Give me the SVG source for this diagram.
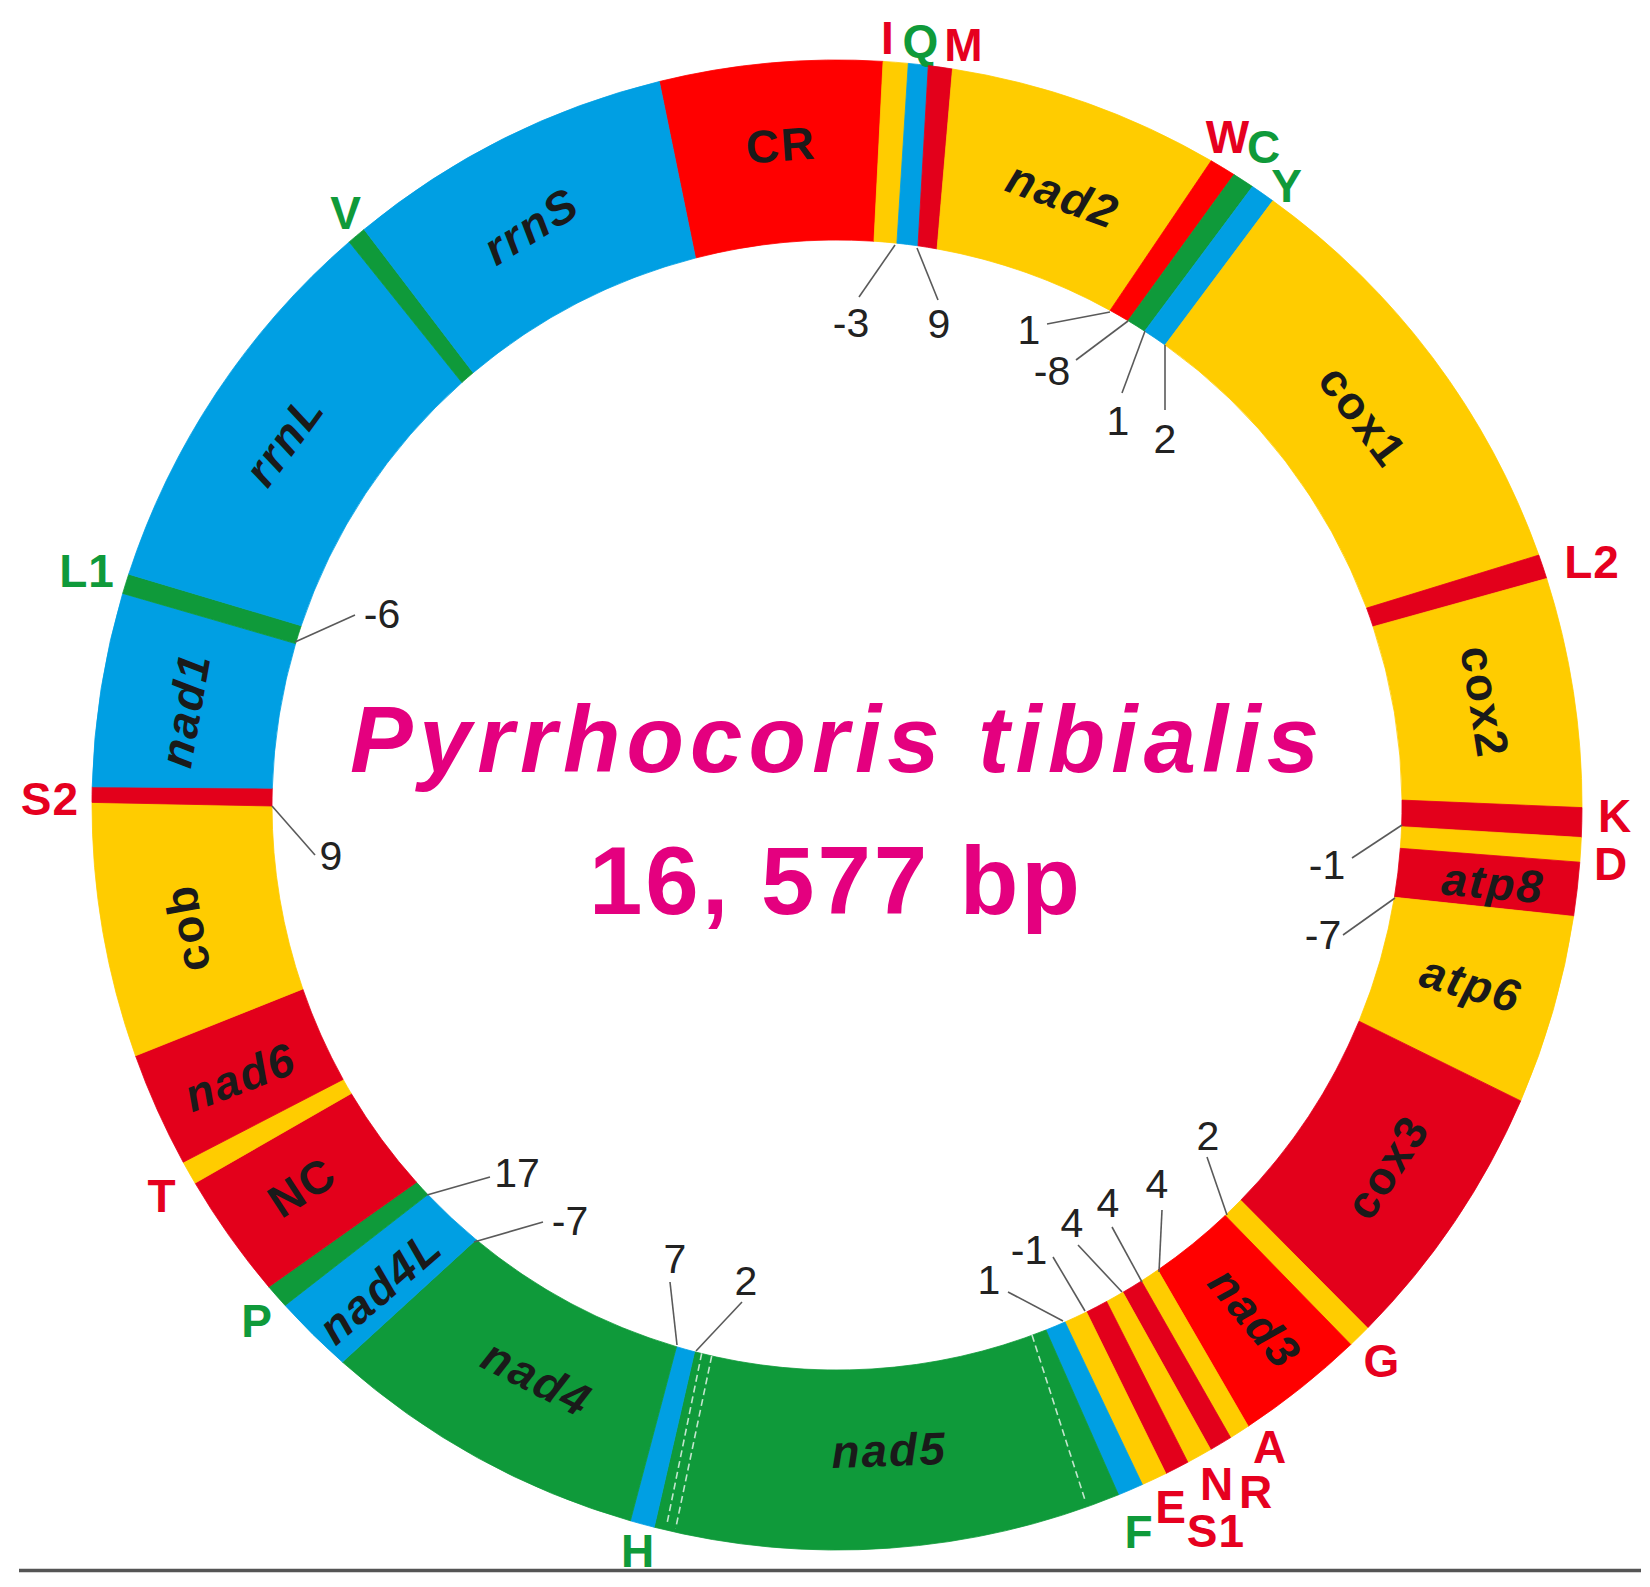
<svg xmlns="http://www.w3.org/2000/svg" width="1650" height="1587" viewBox="0 0 1650 1587">
<style>
.y{fill:#FFCC00;stroke:#FFCC00;stroke-width:0.8}
.b{fill:#009FE3;stroke:#009FE3;stroke-width:0.8}
.g{fill:#0F9A3A;stroke:#0F9A3A;stroke-width:0.8}
.r{fill:#FF0000;stroke:#FF0000;stroke-width:0.8}
.c{fill:#E3001B;stroke:#E3001B;stroke-width:0.8}
.gl{font-family:"Liberation Sans",Arial,sans-serif;font-weight:bold;font-size:46px;fill:#1a1a1a;text-anchor:middle;letter-spacing:2px}
.it{font-style:italic}
.tl{font-family:"Liberation Sans",Arial,sans-serif;font-weight:bold;font-size:46px;text-anchor:middle;letter-spacing:1px}
.tr{fill:#E6001F}
.tg{fill:#0F9A3A}
.num{font-family:"Liberation Sans",Arial,sans-serif;font-size:41px;fill:#222;text-anchor:middle}
.ld{stroke:#5a5a5a;stroke-width:1.6;fill:none}
.wd{stroke:#ffffff;stroke-width:1.6;stroke-dasharray:7 4;opacity:0.75;fill:none}
.title{font-family:"Liberation Sans",Arial,sans-serif;font-weight:bold;fill:#E4007F;text-anchor:middle}
</style>
<rect width="1650" height="1587" fill="#ffffff"/>
<g id="ring">
<g id="CR"><path class="r" d="M659.3 81.5 A745 745 0 0 1 883.1 61.4 L874.0 241.2 A565 565 0 0 0 695.5 258.0 Z"/><text class="gl" transform="translate(781,145) rotate(-4)" y="16">CR</text></g>
<g id="trnI"><path class="y" d="M883.1 61.4 A745 745 0 0 1 908.3 63.4 L896.9 243.2 A565 565 0 0 0 874.0 241.2 Z"/><text class="tl tr" x="888" y="54">I</text></g>
<g id="trnQ"><path class="b" d="M908.3 63.4 A745 745 0 0 1 928.3 65.6 L918.0 245.8 A565 565 0 0 0 896.9 243.2 Z"/><text class="tl tg" x="921" y="57">Q</text></g>
<g id="trnM"><path class="c" d="M928.3 65.6 A745 745 0 0 1 952.5 69.0 L937.1 248.9 A565 565 0 0 0 918.0 245.8 Z"/><text class="tl tr" x="964" y="61">M</text></g>
<g id="nad2"><path class="y" d="M952.5 69.0 A745 745 0 0 1 1211.2 160.8 L1110.1 310.4 A565 565 0 0 0 937.1 248.9 Z"/><text class="gl it" transform="translate(1063,195) rotate(20)" y="16">nad2</text></g>
<g id="trnW"><path class="r" d="M1211.2 160.8 A745 745 0 0 1 1234.0 174.6 L1128.0 320.7 A565 565 0 0 0 1110.1 310.4 Z"/><text class="tl tr" x="1228" y="153">W</text></g>
<g id="trnC"><path class="g" d="M1234.0 174.6 A745 745 0 0 1 1252.5 186.6 L1144.7 331.2 A565 565 0 0 0 1128.0 320.7 Z"/><text class="tl tg" x="1264" y="163">C</text></g>
<g id="trnY"><path class="b" d="M1252.5 186.6 A745 745 0 0 1 1272.8 200.8 L1165.1 345.0 A565 565 0 0 0 1144.7 331.2 Z"/><text class="tl tg" x="1287" y="202">Y</text></g>
<g id="cox1"><path class="y" d="M1272.8 200.8 A745 745 0 0 1 1538.8 555.1 L1366.6 608.1 A565 565 0 0 0 1165.1 345.0 Z"/><text class="gl" transform="translate(1363,416) rotate(53)" y="16">cox1</text></g>
<g id="trnL2"><path class="c" d="M1538.8 555.1 A745 745 0 0 1 1546.7 578.5 L1373.1 626.7 A565 565 0 0 0 1366.6 608.1 Z"/><text class="tl tr" x="1592" y="578" letter-spacing="3">L2</text></g>
<g id="cox2"><path class="y" d="M1546.7 578.5 A745 745 0 0 1 1582.0 807.6 L1402.0 800.1 A565 565 0 0 0 1373.1 626.7 Z"/><text class="gl" transform="translate(1485,702) rotate(81)" y="16">cox2</text></g>
<g id="trnK"><path class="c" d="M1582.0 807.6 A745 745 0 0 1 1581.3 837.5 L1401.6 826.7 A565 565 0 0 0 1402.0 800.1 Z"/><text class="tl tr" x="1615" y="832" font-size="42">K</text></g>
<g id="trnD"><path class="y" d="M1581.3 837.5 A745 745 0 0 1 1579.8 862.2 L1400.3 848.3 A565 565 0 0 0 1401.6 826.7 Z"/><text class="tl tr" x="1611" y="880" font-size="42">D</text></g>
<g id="atp8"><path class="c" d="M1579.8 862.2 A745 745 0 0 1 1573.6 916.4 L1394.4 897.3 A565 565 0 0 0 1400.3 848.3 Z"/><text class="gl it" transform="translate(1493,883) rotate(5)" y="16">atp8</text></g>
<g id="atp6"><path class="y" d="M1573.6 916.4 A745 745 0 0 1 1520.7 1100.9 L1359.0 1021.2 A565 565 0 0 0 1394.4 897.3 Z"/><text class="gl it" transform="translate(1471,984) rotate(16)" y="16">atp6</text></g>
<g id="cox3"><path class="c" d="M1520.7 1100.9 A745 745 0 0 1 1367.6 1328.0 L1240.7 1200.3 A565 565 0 0 0 1359.0 1021.2 Z"/><text class="gl" transform="translate(1387,1167) rotate(-57)" y="16">cox3</text></g>
<g id="trnG"><path class="y" d="M1367.6 1328.0 A745 745 0 0 1 1350.8 1344.5 L1225.2 1215.5 A565 565 0 0 0 1240.7 1200.3 Z"/><text class="tl tr" x="1382" y="1377">G</text></g>
<g id="nad3"><path class="r" d="M1350.8 1344.5 A745 745 0 0 1 1248.2 1426.2 L1157.8 1270.1 A565 565 0 0 0 1225.2 1215.5 Z"/><text class="gl it" transform="translate(1255,1318) rotate(50)" y="16">nad3</text></g>
<g id="trnA"><path class="y" d="M1248.2 1426.2 A745 745 0 0 1 1230.6 1437.6 L1141.4 1281.0 A565 565 0 0 0 1157.8 1270.1 Z"/><text class="tl tr" x="1270" y="1463">A</text></g>
<g id="trnR"><path class="c" d="M1230.6 1437.6 A745 745 0 0 1 1210.6 1449.5 L1122.9 1292.3 A565 565 0 0 0 1141.4 1281.0 Z"/><text class="tl tr" x="1256" y="1508">R</text></g>
<g id="trnN"><path class="y" d="M1210.6 1449.5 A745 745 0 0 1 1187.8 1462.2 L1106.6 1301.5 A565 565 0 0 0 1122.9 1292.3 Z"/><text class="tl tr" x="1217" y="1500">N</text></g>
<g id="trnS1"><path class="c" d="M1187.8 1462.2 A745 745 0 0 1 1165.9 1473.5 L1086.5 1312.0 A565 565 0 0 0 1106.6 1301.5 Z"/><text class="tl tr" x="1216" y="1547">S1</text></g>
<g id="trnE"><path class="y" d="M1165.9 1473.5 A745 745 0 0 1 1142.4 1484.5 L1065.0 1322.0 A565 565 0 0 0 1086.5 1312.0 Z"/><text class="tl tr" x="1171" y="1523">E</text></g>
<g id="trnF"><path class="b" d="M1142.4 1484.5 A745 745 0 0 1 1118.5 1494.8 L1045.9 1330.0 A565 565 0 0 0 1065.0 1322.0 Z"/><text class="tl tg" x="1139" y="1548">F</text></g>
<g id="nad5"><path class="g" d="M1118.5 1494.8 A745 745 0 0 1 654.2 1527.2 L694.6 1351.8 A565 565 0 0 0 1045.9 1330.0 Z"/><path class="wd" d="M701.7 1353.3 L666.7 1525"/><path class="wd" d="M711.7 1356 L675.7 1528.3"/><path class="wd" d="M1032 1335 L1085 1500"/><text class="gl it" transform="translate(889,1450) rotate(-2)" y="16">nad5</text></g>
<g id="trnH"><path class="b" d="M654.2 1527.2 A745 745 0 0 1 630.4 1520.8 L676.5 1346.7 A565 565 0 0 0 694.6 1351.8 Z"/><text class="tl tg" x="638" y="1567">H</text></g>
<g id="nad4"><path class="g" d="M630.4 1520.8 A745 745 0 0 1 342.4 1362.1 L476.1 1239.7 A565 565 0 0 0 676.5 1346.7 Z"/><text class="gl it" transform="translate(537,1378) rotate(27)" y="16">nad4</text></g>
<g id="nad4L"><path class="b" d="M342.4 1362.1 A745 745 0 0 1 285.1 1305.4 L427.8 1194.6 A565 565 0 0 0 476.1 1239.7 Z"/><text class="gl it" transform="translate(380,1287) rotate(-41)" y="16">nad4L</text></g>
<g id="trnP"><path class="g" d="M285.1 1305.4 A745 745 0 0 1 268.8 1286.9 L416.5 1182.3 A565 565 0 0 0 427.8 1194.6 Z"/><text class="tl tg" x="257" y="1337">P</text></g>
<g id="NC"><path class="c" d="M268.8 1286.9 A745 745 0 0 1 195.1 1183.1 L351.2 1093.5 A565 565 0 0 0 416.5 1182.3 Z"/><text class="gl" transform="translate(302,1187) rotate(-33)" y="16">NC</text></g>
<g id="trnT"><path class="y" d="M195.1 1183.1 A745 745 0 0 1 183.2 1162.2 L343.1 1079.4 A565 565 0 0 0 351.2 1093.5 Z"/><text class="tl tr" x="162" y="1212">T</text></g>
<g id="nad6"><path class="c" d="M183.2 1162.2 A745 745 0 0 1 135.5 1055.8 L302.8 989.0 A565 565 0 0 0 343.1 1079.4 Z"/><text class="gl it" transform="translate(240,1077) rotate(-21)" y="16">nad6</text></g>
<g id="cob"><path class="y" d="M135.5 1055.8 A745 745 0 0 1 92.0 802.4 L272.0 806.0 A565 565 0 0 0 302.8 989.0 Z"/><text class="gl" transform="translate(187,928) rotate(-100)" y="16">cob</text></g>
<g id="trnS2"><path class="c" d="M92.0 802.4 A745 745 0 0 1 92.2 786.8 L272.3 788.2 A565 565 0 0 0 272.0 806.0 Z"/><text class="tl tr" x="50" y="815" letter-spacing="3">S2</text></g>
<g id="nad1"><path class="b" d="M92.2 786.8 A745 745 0 0 1 122.7 593.4 L295.6 643.6 A565 565 0 0 0 272.3 788.2 Z"/><text class="gl it" transform="translate(185,710) rotate(-80)" y="16">nad1</text></g>
<g id="trnL1"><path class="g" d="M122.7 593.4 A745 745 0 0 1 128.7 574.2 L301.2 625.7 A565 565 0 0 0 295.6 643.6 Z"/><text class="tl tg" x="87" y="587" letter-spacing="5">L1</text></g>
<g id="rrnL"><path class="b" d="M128.7 574.2 A745 745 0 0 1 349.2 241.9 L461.9 382.5 A565 565 0 0 0 301.2 625.7 Z"/><text class="gl it" transform="translate(284,440) rotate(-54)" y="16">rrnL</text></g>
<g id="trnV"><path class="g" d="M349.2 241.9 A745 745 0 0 1 364.1 229.4 L473.2 372.7 A565 565 0 0 0 461.9 382.5 Z"/><text class="tl tg" x="346" y="229">V</text></g>
<g id="rrnS"><path class="b" d="M364.1 229.4 A745 745 0 0 1 659.3 81.5 L695.5 258.0 A565 565 0 0 0 473.2 372.7 Z"/><text class="gl it" transform="translate(531,226) rotate(-32)" y="16">rrnS</text></g>
</g>
<g id="connectors">
<path class="ld" d="M895 245 L859 297"/>
<path class="ld" d="M917 248 L938 300"/>
<path class="ld" d="M1110 312 L1047 324"/>
<path class="ld" d="M1128 321 L1076 360"/>
<path class="ld" d="M1145 331 L1122 393"/>
<path class="ld" d="M1165 345 L1165 410"/>
<path class="ld" d="M295 642 L355 615"/>
<path class="ld" d="M272 806 L315 855"/>
<path class="ld" d="M1402 825 L1352 858"/>
<path class="ld" d="M1395 898 L1343 935"/>
<path class="ld" d="M1227 1215 L1207 1157"/>
<path class="ld" d="M1159 1272 L1162 1210"/>
<path class="ld" d="M1142 1282 L1112 1227"/>
<path class="ld" d="M1122 1292 L1078 1245"/>
<path class="ld" d="M1085 1311 L1053 1257"/>
<path class="ld" d="M1063 1321 L1008 1292"/>
<path class="ld" d="M677 1345 L670 1282"/>
<path class="ld" d="M696 1351 L742 1302"/>
<path class="ld" d="M427 1195 L490 1177"/>
<path class="ld" d="M474 1242 L543 1222"/>
</g>
<g id="numbers">
<text class="num" x="851" y="337">-3</text>
<text class="num" x="939" y="338">9</text>
<text class="num" x="1029" y="344">1</text>
<text class="num" x="1052" y="385">-8</text>
<text class="num" x="1118" y="435">1</text>
<text class="num" x="1165" y="453">2</text>
<text class="num" x="382" y="628">-6</text>
<text class="num" x="331" y="870">9</text>
<text class="num" x="1327" y="879">-1</text>
<text class="num" x="1323" y="949">-7</text>
<text class="num" x="1208" y="1150">2</text>
<text class="num" x="1157" y="1198">4</text>
<text class="num" x="1108" y="1217">4</text>
<text class="num" x="1072" y="1237">4</text>
<text class="num" x="1029" y="1264">-1</text>
<text class="num" x="989" y="1294">1</text>
<text class="num" x="675" y="1273">7</text>
<text class="num" x="746" y="1295">2</text>
<text class="num" x="517" y="1187">17</text>
<text class="num" x="570" y="1235">-7</text>
</g>
<g id="title">
<text class="title" x="834.5" y="772" font-size="94" font-style="italic" textLength="969" lengthAdjust="spacing">Pyrrhocoris tibialis</text>
<text class="title" x="834.5" y="914" font-size="96" textLength="491" lengthAdjust="spacing">16, 577 bp</text>
</g>
<line x1="19" y1="1570.5" x2="1641" y2="1570.5" stroke="#555555" stroke-width="3.5"/>
</svg>
